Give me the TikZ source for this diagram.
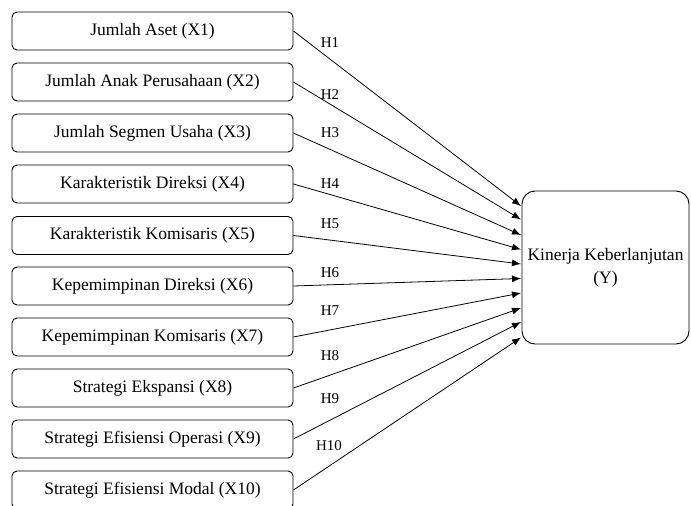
\documentclass[tikz,border=0pt]{standalone}
\usepackage{fontspec}
\setmainfont{Liberation Serif}
\usetikzlibrary{arrows.meta, positioning}

\begin{document}
\begin{tikzpicture}[x=1pt, y=-1pt, >={Latex[length=9pt, width=7pt]}]
    % Kiểu hộp và nhãn
    \tikzset{
      varbox/.style={draw, line width=0.9pt, rounded corners=5pt, minimum width=281pt, minimum height=38pt, inner sep=0pt, font=\fontsize{17.5}{21}\selectfont},
      ybox/.style={draw, line width=0.9pt, rounded corners=13pt, minimum width=167pt, minimum height=153pt, inner sep=0pt, align=center, font=\fontsize{17.5}{23}\selectfont},
      hlabel/.style={inner sep=0pt, font=\fontsize{15}{18}\selectfont},
      path/.style={line width=0.8pt, ->}
    }

    \useasboundingbox (0,0) rectangle (691,506);
    \clip (0,0) rectangle (691,506);

    % 1. Các biến độc lập X1..X10
    \node[varbox] (x1) at (152.5, 31) {Jumlah Aset (X1)};
    \node[varbox] (x2) at (152.5, 82) {Jumlah Anak Perusahaan (X2)};
    \node[varbox] (x3) at (152.5, 133) {Jumlah Segmen Usaha (X3)};
    \node[varbox] (x4) at (152.5, 184) {Karakteristik Direksi (X4)};
    \node[varbox] (x5) at (152.5, 235.5) {Karakteristik Komisaris (X5)};
    \node[varbox] (x6) at (152.5, 286) {Kepemimpinan Direksi (X6)};
    \node[varbox] (x7) at (152.5, 337) {Kepemimpinan Komisaris (X7)};
    \node[varbox] (x8) at (152.5, 388) {Strategi Ekspansi (X8)};
    \node[varbox] (x9) at (152.5, 439) {Strategi Efisiensi Operasi (X9)};
    \node[varbox] (x10) at (152.5, 490) {Strategi Efisiensi Modal (X10)};

    % 2. Biến phụ thuộc Y
    \node[ybox] (y) at (605.5, 267.5) {Kinerja Keberlanjutan\\(Y)};

    % 3. Điểm cuối mũi tên trên cạnh trái của Y
    \coordinate (e1) at (521, 206);
    \coordinate (e2) at (521, 219.5);
    \coordinate (e3) at (521, 235);
    \coordinate (e4) at (521, 249.5);
    \coordinate (e5) at (521, 264);
    \coordinate (e6) at (521, 278.5);
    \coordinate (e7) at (521, 293);
    \coordinate (e8) at (521, 308);
    \coordinate (e9) at (521, 322);
    \coordinate (e10) at (521, 337.5);

    % 4. Các mũi tên giả thuyết
    \draw[path] (x1.east) -- (e1);
    \draw[path] (x2.east) -- (e2);
    \draw[path] (x3.east) -- (e3);
    \draw[path] (x4.east) -- (e4);
    \draw[path] (x5.east) -- (e5);
    \draw[path] (x6.east) -- (e6);
    \draw[path] (x7.east) -- (e7);
    \draw[path] (x8.east) -- (e8);
    \draw[path] (x9.east) -- (e9);
    \draw[path] (x10.east) -- (e10);

    % Nhãn H1..H10
    \node[hlabel] (h1) at (330, 43) {H1};
    \node[hlabel] (h2) at (330, 95) {H2};
    \node[hlabel] (h3) at (330, 133) {H3};
    \node[hlabel] (h4) at (330, 184) {H4};
    \node[hlabel] (h5) at (330, 224) {H5};
    \node[hlabel] (h6) at (330, 273) {H6};
    \node[hlabel] (h7) at (330, 311) {H7};
    \node[hlabel] (h8) at (330, 356) {H8};
    \node[hlabel] (h9) at (330, 399) {H9};
    \node[hlabel] (h10) at (329, 446) {H10};
\end{tikzpicture}
\end{document}
